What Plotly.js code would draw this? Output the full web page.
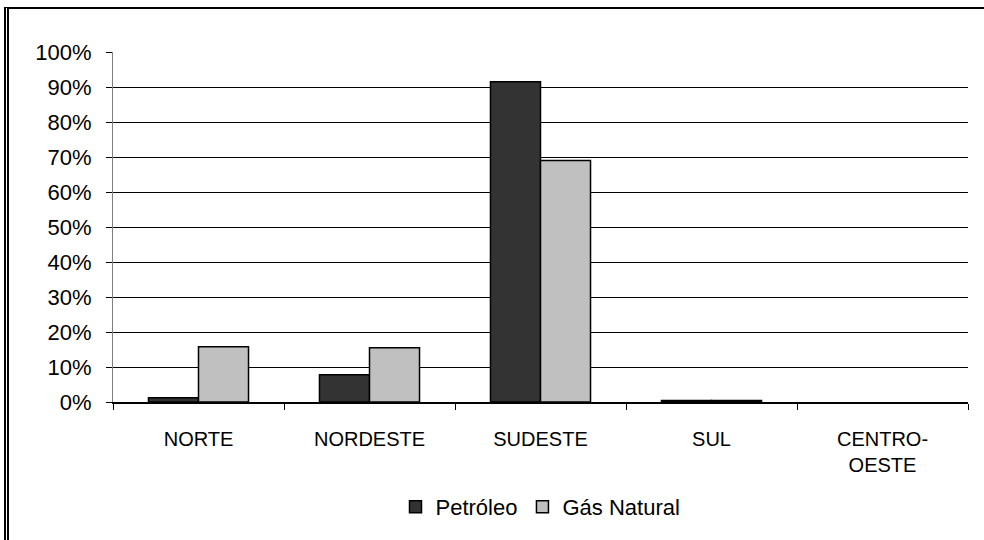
<!DOCTYPE html>
<html>
<head>
<meta charset="utf-8">
<script src="https://cdn.plot.ly/plotly-3.0.1.min.js"></script>
<style>
  body { margin: 0; background: #fff; }
  #wrap { position: relative; width: 984px; height: 540px; }
  #grafico { width: 984px; height: 540px; }
  #moldura {
    position: absolute; left: 4px; top: 7px; right: 0; bottom: 0;
    border-left: 5px double #000; border-top: 2px solid #000;
    pointer-events: none;
  }
</style>
</head>
<body>
<div id="wrap">
  <div id="grafico"></div>
  <div id="moldura"></div>
</div>
<script>
// regiões e participação (%) de cada combustível
const regioes = ["NORTE", "NORDESTE", "SUDESTE", "SUL", "CENTRO-<br>OESTE"];
const petroleo = [1.2, 7.8, 91.5, 0.4, 0];
const gasNatural = [15.8, 15.5, 69.0, 0.4, 0];
const ticksY = [0, 10, 20, 30, 40, 50, 60, 70, 80, 90, 100];

const familia = "Liberation Sans, Arial, sans-serif";
const fonteX = { family: familia, size: 20, color: "#000" };
const fonteY = { family: familia, size: 22, color: "#000" };

// sem contorno quando o valor é zero
const contorno = vals => vals.map(v => (v > 0 ? 1.5 : 0));

const petroleoTrace = {
    x: regioes,
    y: petroleo,
    name: "Petróleo",
    type: "bar",
    marker: { color: "#333333", line: { color: "#000", width: contorno(petroleo) } }
};

const gasTrace = {
    x: regioes,
    y: gasNatural,
    name: "Gás Natural",
    type: "bar",
    marker: { color: "#c0c0c0", line: { color: "#000", width: contorno(gasNatural) } }
};

const layout = {
    width: 984,
    height: 540,
    margin: { l: 113, r: 16, t: 52, b: 134 },
    paper_bgcolor: "#fff",
    plot_bgcolor: "#fff",
    font: fonteX,
    barmode: "group",
    bargap: 0.415,
    bargroupgap: 0,
    showlegend: true,
    legend: {
        orientation: "h",
        x: 0.5, xanchor: "center",
        y: -0.30, yanchor: "middle",
        font: fonteY,
        itemwidth: 30,
        traceorder: "normal"
    },
    xaxis: {
        type: "category",
        showline: true,
        linecolor: "#000",
        linewidth: 1.5,
        ticks: "outside",
        tickson: "boundaries",
        ticklen: 6,
        tickcolor: "#000",
        ticklabelstandoff: 18,
        showgrid: false,
        tickfont: fonteX
    },
    yaxis: {
        range: [0, 100],
        tickvals: ticksY,
        ticktext: ticksY.map(v => v + "%"),
        showgrid: true,
        gridcolor: "#000",
        gridwidth: 1,
        showline: true,
        linecolor: "#808080",
        linewidth: 1,
        ticks: "outside",
        ticklen: 6,
        tickcolor: "#000",
        ticklabelstandoff: 10,
        zeroline: false,
        tickfont: fonteY
    }
};

Plotly.newPlot("grafico", [petroleoTrace, gasTrace], layout, { displayModeBar: false, staticPlot: true });
</script>
</body>
</html>
